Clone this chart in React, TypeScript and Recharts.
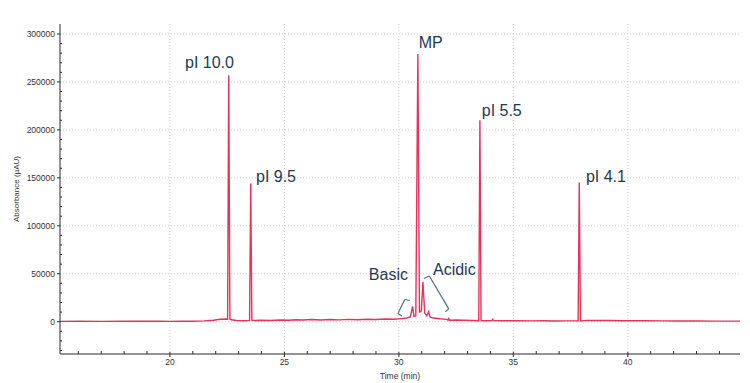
import React from "react"
import {
  LineChart,
  Line,
  XAxis,
  YAxis,
  CartesianGrid,
  ReferenceLine,
  ReferenceDot,
} from "recharts"

// electropherogram trace: time (min) and absorbance (µAU)
const times = [
  15.2, 16, 17, 18, 19, 19.6, 20, 20.5, 21, 21.5, 21.9, 22.2, 22.45, 22.52, 22.57, 22.62, 22.7, 22.9,
  23.2, 23.48, 23.53, 23.58, 23.7, 24, 24.4, 24.8, 25.2, 25.5, 25.8, 26.2, 26.6, 27, 27.4, 27.8, 28.2,
  28.6, 29, 29.4, 29.8, 30.1, 30.35, 30.5, 30.6, 30.66, 30.74, 30.83, 30.9, 30.98, 31.05, 31.13, 31.22,
  31.3, 31.36, 31.5, 31.8, 32.1, 32.15, 32.18, 32.22, 32.5, 32.8, 33.2, 33.49, 33.54, 33.59, 33.8,
  34.06, 34.1, 34.14, 34.5, 34.8, 35.2, 35.8, 36.3, 36.8, 37.3, 37.83, 37.88, 37.93, 38.2, 38.7, 39.2,
  39.7, 40.2, 40.8, 41.5, 42.2, 43, 43.8, 44.9,
]
const absorbance = [
  300, 400, 300, 500, 400, 500, 300, 600, 500, 800, 1500, 2500, 2800, 2500, 257000, 2500, 2000, 1200,
  1000, 1400, 144000, 1500, 1200, 1500, 1300, 1800, 1500, 2000, 1700, 2200, 1800, 2300, 1900, 2400, 2000,
  2500, 2200, 2800, 2600, 3200, 3800, 5000, 16000, 5500, 6000, 279000, 10000, 11000, 41500, 9000, 6000,
  10500, 5000, 3800, 3000, 2400, 1600, 3200, 1500, 1800, 1500, 1200, 1000, 210000, 1200, 1000,
  1100, 2600, 1100, 1000, 900, 1000, 800, 900, 700, 800, 800, 145000, 800, 1400, 1200, 1300,
  1000, 1100, 900, 800, 700, 700, 600, 600,
]

const xTicks = [16, 17, 18, 19, 20, 21, 22, 23, 24, 25, 26, 27, 28, 29, 30, 31, 32, 33, 34, 35, 36, 37, 38, 39, 40, 41, 42, 43, 44]
const xMajor = [20, 25, 30, 35, 40]
const yTicks = [
  -30000, -20000, -10000, 0, 10000, 20000, 30000, 40000, 50000, 60000, 70000, 80000, 90000, 100000,
  110000, 120000, 130000, 140000, 150000, 160000, 170000, 180000, 190000, 200000, 210000, 220000,
  230000, 240000, 250000, 260000, 270000, 280000, 290000, 300000,
]
const yMajor = [0, 50000, 100000, 150000, 200000, 250000, 300000]

// peak labels: text, time, absorbance at the text's left baseline
const peakLabels = [
  { text: "pI 10.0", t: 20.66, v: 264000 },
  { text: "pI 9.5", t: 23.76, v: 145700 },
  { text: "MP", t: 30.87, v: 285400 },
  { text: "pI 5.5", t: 33.62, v: 214000 },
  { text: "pI 4.1", t: 38.17, v: 145700 },
  { text: "Basic", t: 28.69, v: 43000 },
  { text: "Acidic", t: 31.49, v: 48700 },
]

// bracket polylines around the charge variants
const basicBracket = [
  { x: 30.13, y: 5900 },
  { x: 29.96, y: 8500 },
  { x: 30.26, y: 23100 },
  { x: 30.48, y: 22100 },
]
const acidicBracket = [
  { x: 31.09, y: 45000 },
  { x: 31.33, y: 47600 },
  { x: 32.18, y: 13400 },
  { x: 32.03, y: 10300 },
]

const data = times.map((t, i) => ({ t, v: absorbance[i] }))

const axisColor = "#2b2b2b"
const textColor = "#333333"
const traceColor = "#e8325c"
const bracketColor = "#4d7089"
const labelColor = "#1c3a58"

function XTick(props: any) {
  const { x, y, payload } = props
  const major = xMajor.includes(payload.value)
  return (
    <g>
      <line x1={x} x2={x} y1={major ? y - 2 : y - 3} y2={major ? y + 3 : y} stroke={axisColor} />
      {major && (
        <text x={x} y={y + 11} textAnchor="middle" fontSize={8.5} fill={textColor} fontFamily="Liberation Sans">
          {payload.value}
        </text>
      )}
    </g>
  )
}

function YTick(props: any) {
  const { x, y, payload } = props
  const major = yMajor.includes(payload.value)
  return (
    <g>
      <line x1={major ? x - 3 : x} x2={major ? x : x + 2} y1={y} y2={y} stroke={axisColor} />
      {major && (
        <text x={x - 5} y={y + 3} textAnchor="end" fontSize={8.5} fill={textColor} fontFamily="Liberation Sans">
          {payload.value}
        </text>
      )}
    </g>
  )
}

function PeakText(props: any) {
  const { viewBox, text } = props
  return (
    <text x={viewBox.x} y={viewBox.y} fontSize={16} fill={labelColor} fontFamily="Liberation Sans">
      {text}
    </text>
  )
}

function YLabel(props: any) {
  const { viewBox } = props
  const cx = 16
  const cy = viewBox.y + viewBox.height / 2
  return (
    <text
      x={cx}
      y={cy}
      transform={`rotate(-90 ${cx} ${cy})`}
      textAnchor="middle"
      dominantBaseline="central"
      fontSize={8}
      fill={textColor}
      fontFamily="Liberation Sans"
    >
      Absorbance (µAU)
    </text>
  )
}

function bracketSegments(points: { x: number; y: number }[], key: string) {
  return points.slice(1).map((p, i) => (
    <ReferenceLine
      key={key + i}
      segment={[points[i], p]}
      stroke={bracketColor}
      strokeWidth={1.2}
      ifOverflow="visible"
    />
  ))
}

export default function App() {
  return (
    <div style={{ position: "absolute", left: 0, top: 0, background: "#fff" }}>
      <LineChart width={750} height={383} data={data} margin={{ top: 24, right: 10, bottom: 0, left: 0 }}>
        <CartesianGrid
          stroke="#cdcdcd"
          strokeDasharray="1 2"
          verticalValues={xMajor}
          horizontalValues={yMajor}
        />
        <XAxis
          type="number"
          dataKey="t"
          domain={[15.2, 44.9]}
          ticks={xTicks}
          interval={0}
          allowDataOverflow
          tick={<XTick />}
          tickLine={false}
          tickSize={0}
          tickMargin={0}
          height={29}
          axisLine={{ stroke: axisColor }}
          label={{ value: "Time (min)", position: "insideBottom", offset: 4, fontSize: 8.5, fill: textColor, fontFamily: "Liberation Sans" }}
        />
        <YAxis
          type="number"
          domain={[-33700, 310400]}
          ticks={yTicks}
          interval={0}
          allowDataOverflow
          tick={<YTick />}
          tickLine={false}
          tickSize={0}
          tickMargin={0}
          width={60}
          axisLine={{ stroke: axisColor }}
          label={<YLabel />}
        />
        <Line
          type="linear"
          dataKey="v"
          stroke={traceColor}
          strokeWidth={1.4}
          dot={false}
          isAnimationActive={false}
        />
        {bracketSegments(basicBracket, "b")}
        {bracketSegments(acidicBracket, "a")}
        {peakLabels.map((l) => (
          <ReferenceDot
            key={l.text}
            x={l.t}
            y={l.v}
            r={0}
            fill="none"
            stroke="none"
            ifOverflow="visible"
            label={<PeakText text={l.text} />}
          />
        ))}
      </LineChart>
    </div>
  )
}
